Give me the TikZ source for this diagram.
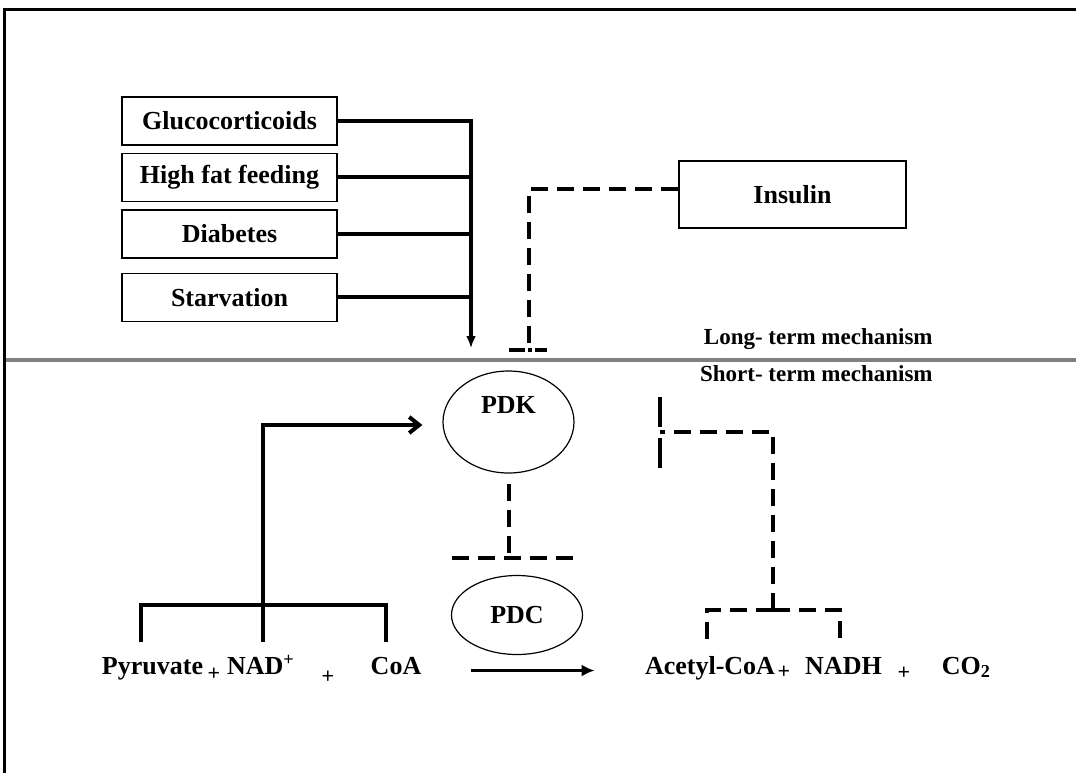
\documentclass[tikz,border=0pt]{standalone}
\usepackage{fontspec}
\setmainfont{Liberation Serif}
\usetikzlibrary{arrows.meta,positioning,calc,shapes.geometric}
\tikzset{
  causebox/.style={
    rectangle,
    draw=black,
    fill=white,
    line width=0.7pt,
    align=center,
    minimum width=107.5pt,
    minimum height=24pt,
    inner sep=2pt,
    font=\fontsize{13}{15}\selectfont\bfseries
  },
  enzyme/.style={
    ellipse,
    draw=black,
    line width=0.6pt,
    minimum width=65.5pt,
    inner sep=0pt,
    font=\fontsize{13}{15}\selectfont\bfseries
  },
  chemtext/.style={
    inner sep=0pt,
    anchor=base,
    font=\fontsize{13}{15}\selectfont\bfseries
  },
  plustext/.style={
    inner sep=0pt,
    font=\fontsize{11}{12}\selectfont\bfseries
  },
  mechtext/.style={
    inner sep=0pt,
    anchor=base east,
    font=\fontsize{11.5}{13}\selectfont\bfseries
  },
  solidline/.style={
    line width=2pt,
    draw=black
  },
  solidarrow/.style={
    solidline,
    -{Latex[length=6pt,width=5pt]}
  },
  barbarrow/.style={
    solidline,
    -{Straight Barb[length=5pt,width=8pt]}
  },
  reactarrow/.style={
    line width=1.4pt,
    draw=black,
    -{Latex[length=6.5pt,width=6pt]}
  },
  dashline/.style={
    line width=2pt,
    draw=black,
    dash pattern=on 8.5pt off 4.5pt
  },
  inhibitbar/.style={
    line width=2pt,
    draw=black,
    dash pattern=on 15pt off 5.5pt
  }
}

\begin{document}
\begin{tikzpicture}[x=0.5pt,y=-0.5pt]
  \useasboundingbox (0,0) rectangle (1076,773);
  \draw[line width=1.5pt] (1076,9) -- (4.5,9) -- (4.5,773);
  \draw[line width=1.75pt,draw=black!50] (6,360) -- (1076,360);

  % long-term regulators
  \node[causebox] (gluco) at (229.5,121) {Glucocorticoids};
  \node[causebox,below=3.5pt of gluco] (fat) {High fat feeding};
  \node[causebox,below=3.5pt of fat] (diab) {Diabetes};
  \node[causebox,below=7pt of diab] (starv) {Starvation};
  \node[causebox,minimum width=113.5pt,minimum height=33.5pt] (insulin) at (792.5,194.5) {Insulin};

  \node[mechtext] (longterm) at (933,344) {Long- term mechanism};
  \node[mechtext] (shortterm) at (933,381) {Short- term mechanism};

  % enzymes
  \node[enzyme,minimum height=51pt] (pdk) at (508.5,422) {};
  \node[chemtext,anchor=center] (pdklabel) at ($(pdk.north)+(0,35)$) {PDK};
  \node[enzyme,minimum height=39.5pt] (pdc) at (517,615) {PDC};

  % reaction
  \node[chemtext] (pyr) at (152.5,674) {Pyruvate};
  \node[plustext] (plusa) at (214,674) {+};
  \node[chemtext] (nad) at (261,674) {NAD\textsuperscript{+}};
  \node[plustext] (plusb) at (328,677) {+};
  \node[chemtext] (coa) at (396,674) {CoA};
  \node[chemtext] (acetyl) at (710,674) {Acetyl-CoA};
  \node[plustext] (plusc) at (784,672) {+};
  \node[chemtext] (nadh) at (843.5,674) {NADH};
  \node[plustext] (plusd) at (904,673) {+};
  \node[chemtext] (co2) at (966.5,674) {CO\textsubscript{2}};

  \draw[reactarrow,shorten <=24.5pt,shorten >=25pt] ([yshift=-2.5pt]coa.east) -- ([yshift=-2.5pt]coa.east -| acetyl.west);

  \coordinate (bustip) at (471,348);
  \draw[solidarrow] (gluco.east) -| (bustip);
  \foreach \cause in {fat,diab,starv}
    \draw[solidline] (\cause.east) -- (\cause.east -| bustip);

  \coordinate (pdkinh) at (529,350);
  \draw[dashline] ([yshift=2.75pt]insulin.west) -| (pdkinh);
  \draw[dashline,dash pattern=on 8pt off 1.5pt on 2pt off 1.5pt] ($(pdkinh)+(-20,0)$) -- ($(pdkinh)+(18,0)$);

  \coordinate (pyrtop) at (141,642);
  \coordinate (nadtop) at (263,642);
  \coordinate (coatop) at (386,642);
  \coordinate (feedbar) at (263,605);
  \draw[solidline] (pyrtop) |- (feedbar) -| (coatop);
  \draw[barbarrow] (nadtop) |- ($(pdk.west)+(-20,3)$);

  \coordinate (pdcbar) at (512.5,558);
  \draw[dashline] ([yshift=-5pt]pdk.south) -- (pdk.south |- pdcbar);
  \draw[dashline] ($(pdcbar)+(-60.5,0)$) -- ($(pdcbar)+(60.5,0)$);

  % products feed back on PDC
  \coordinate (prodbar) at (773,610);
  \coordinate (actop) at (707,642);
  \coordinate (nadhtop) at (840,642);
  \coordinate (pdcinh) at (660,432);
  \draw[dashline] (prodbar) -| (actop);
  \draw[dashline] (prodbar) -| (nadhtop);
  \draw[dashline] (prodbar) |- (pdcinh);
  \draw[inhibitbar] ($(pdcinh)+(0,-35)$) -- ($(pdcinh)+(0,36)$);
\end{tikzpicture}
\end{document}
